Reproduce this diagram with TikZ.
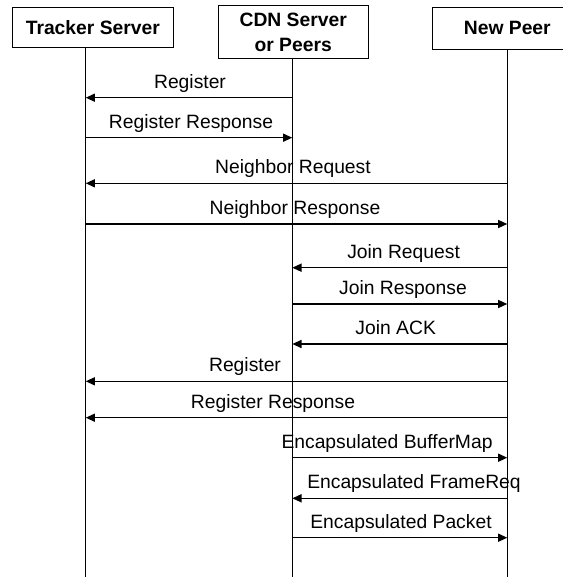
\documentclass[tikz,border=0pt]{standalone}
\usepackage{fontspec}
\setmainfont{Liberation Sans}
\usetikzlibrary{arrows.meta}

\begin{document}
\begin{tikzpicture}[x=0.5pt,y=-0.5pt,
	every node/.style={font=\fontsize{9.65}{12.5}\selectfont},
	box/.style={draw,line width=0.5pt,font=\fontsize{9.65}{12.5}\selectfont\bfseries,align=center,inner sep=0pt},
	life/.style={line width=0.7pt},
	msg/.style={line width=0.75pt,-{Triangle[length=4.6pt,width=4pt]}}]
	\useasboundingbox (0,0) rectangle (562,577);

	\node[box,minimum width=80.85pt,minimum height=20.2pt] (tracker) at (92.85,27.5) {Tracker Server};
	\node[box,minimum width=74.85pt,minimum height=26.5pt] (cdn) at (293.2,32.2) {CDN Server\\or Peers};
	\node[box,minimum width=75.3pt,minimum height=21pt] (peer) at (507.3,28.3) {New Peer};

	\coordinate (tl) at (85.7,577);
	\coordinate (cl) at (292.3,577);
	\coordinate (pl) at (507.3,577);

	\draw[life] (tl |- tracker.south) -- (tl);
	\draw[life] (cl |- cdn.south) -- (cl);
	\draw[life] (pl |- peer.south) -- (pl);

	% messages: y / from / to / label x / text
	\foreach \y/\from/\to/\lx/\txt [count=\i] in {
		97.7/cl/tl/190/Register,
		137.7/tl/cl/191/Register Response,
		183.3/pl/tl/293/Neighbor Request,
		224/tl/pl/295/Neighbor Response,
		267.7/pl/cl/403.6/Join Request,
		304/cl/pl/403/Join Response,
		344/pl/cl/395.7/Join ACK,
		381.3/pl/tl/245/Register,
		417.7/pl/tl/273/Register Response,
		457.7/cl/pl/387/Encapsulated BufferMap,
		498.3/pl/cl/414/Encapsulated FrameReq,
		537.7/cl/pl/401/Encapsulated Packet}{
		\draw[msg] (\from |- 0,\y) -- (\to |- 0,\y);
		\node[anchor=base] (m\i) at (\lx,\y-9.5) {\txt};
	}
\end{tikzpicture}
\end{document}
